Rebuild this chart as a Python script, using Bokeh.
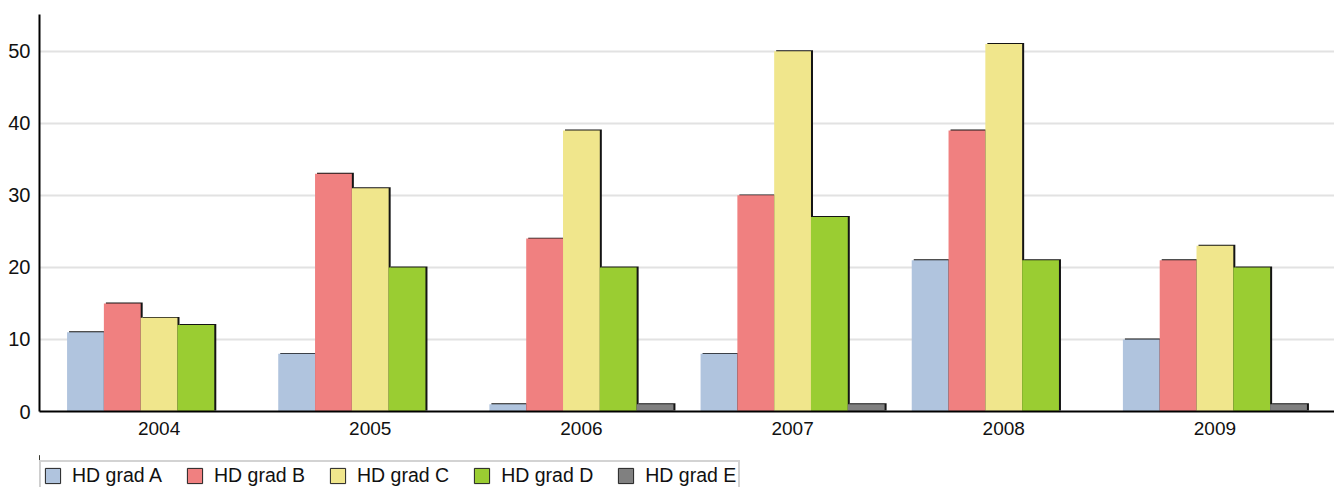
from bokeh.plotting import figure
from bokeh.layouts import column
from bokeh.models import (ColumnDataSource, FactorRange, Range1d, Legend, LegendItem,
                          FixedTicker)
from bokeh.transform import dodge
from bokeh.embed import file_html
from bokeh.resources import INLINE

years = ["2004", "2005", "2006", "2007", "2008", "2009"]
grade_a = [11, 8, 1, 8, 21, 10]
grade_b = [15, 33, 24, 30, 39, 21]
grade_c = [13, 31, 39, 50, 51, 23]
grade_d = [12, 20, 20, 27, 21, 20]
grade_e = [0, 0, 1, 1, 0, 1]
series_names = ["HD grad A", "HD grad B", "HD grad C", "HD grad D", "HD grad E"]
colors = ["#B0C4DE", "#F08080", "#F0E68C", "#9ACD32", "#808080"]
y_ticks = [0, 10, 20, 30, 40, 50]

series = [grade_a, grade_b, grade_c, grade_d, grade_e]

FONT = "Liberation Sans"

p = figure(x_range=FactorRange(factors=years, range_padding=0.0221),
           y_range=Range1d(0, 55.1),
           frame_width=1295, frame_height=397,
           output_backend="svg", toolbar_location=None,
           min_border_left=39, min_border_right=0, min_border_top=14,
           min_border_bottom=44)

bar_w = 0.1743
offsets = [-2 * bar_w, -bar_w, 0.0, bar_w, 2 * bar_w]
sx = 0.0095   # shadow offset to the right (category units)
sy = 0.13     # shadow offset upward (value units)

for vals, name, col, off in zip(series, series_names, colors, offsets):
    src = ColumnDataSource(dict(year=years, v=vals,
                                sb=[sy for _ in vals],
                                st=[x + sy if x > 0 else sy for x in vals]))
    p.vbar(x=dodge("year", off + sx, range=p.x_range), top="st", bottom="sb",
           width=bar_w, source=src, fill_color="#141414", line_color=None)
    p.vbar(x=dodge("year", off, range=p.x_range), top="v", bottom=0,
           width=bar_w, source=src, fill_color=col, line_color=None)

# axes
p.xaxis.axis_line_width = 2
p.xaxis.axis_line_color = "black"
p.xaxis.major_tick_line_color = None
p.xaxis.minor_tick_line_color = None
p.xaxis.major_label_standoff = 4
p.xaxis.major_label_text_font = FONT
p.xaxis.major_label_text_font_size = "19px"
p.xaxis.major_label_text_color = "#111111"

p.yaxis.ticker = FixedTicker(ticks=y_ticks)
p.yaxis.axis_line_width = 2
p.yaxis.axis_line_color = "black"
p.yaxis.major_tick_line_color = None
p.yaxis.minor_tick_line_color = None
p.yaxis.major_label_standoff = 3
p.yaxis.major_label_text_font = FONT
p.yaxis.major_label_text_font_size = "20px"
p.yaxis.major_label_text_color = "#111111"

p.xgrid.grid_line_color = None
p.ygrid.grid_line_color = "#e2e2e2"
p.ygrid.grid_line_width = 2
p.ygrid.ticker = FixedTicker(ticks=y_ticks)

p.outline_line_color = None
p.background_fill_color = "white"
p.border_fill_color = "white"

# legend strip below the chart
lf = figure(width=1334, height=32, x_range=Range1d(0, 1), y_range=Range1d(0, 1),
            output_backend="svg", toolbar_location=None,
            x_axis_type=None, y_axis_type=None,
            min_border_left=0, min_border_right=0, min_border_top=0,
            min_border_bottom=0)
lf.grid.visible = False
lf.outline_line_color = None
items = []
for name, col in zip(series_names, colors):
    # legend-only renderer, placed outside the visible range
    r = lf.vbar(x=[-10], top=[1], width=0.1, fill_color=col,
                line_color="#222222", line_width=1)
    items.append(LegendItem(label=name, renderers=[r]))

legend = Legend(items=items, orientation="horizontal", location=(0, -4),
                margin=0, padding=2, spacing=23, label_standoff=10,
                glyph_width=19, glyph_height=19, label_height=20,
                label_text_font=FONT, label_text_font_size="19.5px",
                label_text_color="#111111",
                border_line_color="#a8a8a8", border_line_width=2,
                background_fill_color="white")
lf.add_layout(legend, "center")

layout = column(p, lf, spacing=0)
open("out.html", "w").write(file_html(layout, INLINE))
